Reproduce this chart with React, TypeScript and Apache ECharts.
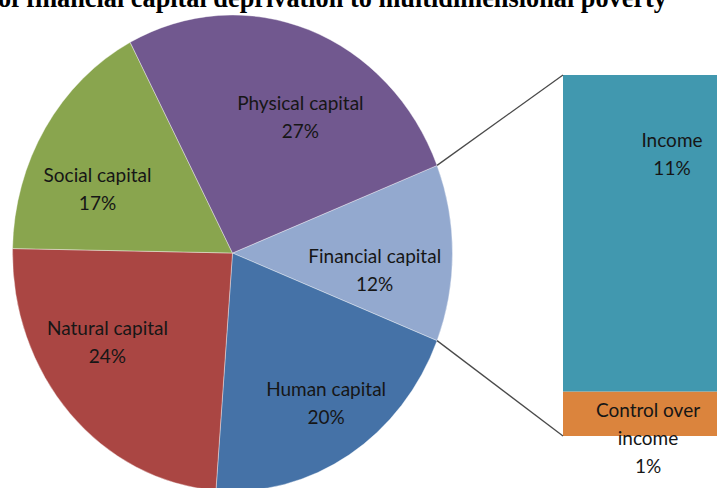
import React, { useEffect, useRef } from 'react';
import * as echarts from 'echarts';

// ---- data ----
const titleText = 'of financial capital deprivation to multidimensional poverty';
const pieCategories = ['Financial capital', 'Human capital', 'Natural capital', 'Social capital', 'Physical capital'];
const pieValues = [12, 20.2, 24.1, 17.0, 26.7];
const barAxisCategory = ['Financial capital'];
const barCategories = ['Control over\nincome', 'Income'];
const barValues = [1.48, 10.52];

// ---- styles / layout ----
const pieColors = ['#93A9CF', '#4572A7', '#AA4643', '#89A54E', '#71588F'];
const barColors = ['#DB843D', '#4198AF'];
const PIE = { cx: 232.5, cy: 253, rx: 220, ry: 238 };
const BAR = { left: 563, top: 75, height: 361 };
// label placement: angle offset from slice middle (deg) and radius fraction
const labelAngleShift = [6, -2, 9, -8, 8];
const labelRadius = [0.65, 0.76, 0.68, 0.67, 0.65];
const barLabelOffset = [[8, 24], [32, -80]];
const TEXT_COLOR = '#161616';
const FONT = 'Lato';

export default function App() {
  const ref = useRef<HTMLDivElement>(null);
  useEffect(() => {
    document.body.style.margin = '0';
    const chart = echarts.init(ref.current!, null, { renderer: 'svg' });
    const total = pieValues.reduce((a, b) => a + b, 0);
    const startDeg = 90 - (pieValues[0] / total) * 180;
    const cum: number[] = [];
    let acc = 0;
    pieValues.forEach((v) => {
      cum.push(acc);
      acc += v;
    });
    const toRad = (d: number) => ((d - 90) * Math.PI) / 180;
    const edge = (d: number, f = 1) => [
      PIE.cx + PIE.rx * f * Math.sin((d * Math.PI) / 180),
      PIE.cy - PIE.ry * f * Math.cos((d * Math.PI) / 180),
    ];
    const finStart = startDeg;
    const finEnd = startDeg + (pieValues[0] / total) * 360;
    const p1 = edge(finStart);
    const p2 = edge(finEnd);
    const barSum = barValues.reduce((a, b) => a + b, 0);

    const option: any = {
      animation: false,
      backgroundColor: '#ffffff',
      textStyle: { fontFamily: FONT },
      grid: { left: BAR.left, top: BAR.top, height: BAR.height, right: 0 },
      xAxis: { type: 'category', data: barAxisCategory, show: false },
      yAxis: { type: 'value', min: 0, max: barSum, show: false },
      graphic: [
        {
          type: 'text',
          x: 667,
          y: -1.3,
          style: {
            text: titleText,
            fill: '#000',
            fontFamily: 'Liberation Serif',
            fontWeight: 'bold',
            fontSize: 26.3,
            align: 'right',
            verticalAlign: 'middle',
          },
        },
        {
          type: 'line',
          shape: { x1: p1[0], y1: p1[1], x2: BAR.left, y2: BAR.top },
          style: { stroke: '#4a4a4a', lineWidth: 1.3 },
          z: 10,
        },
        {
          type: 'line',
          shape: { x1: p2[0], y1: p2[1], x2: BAR.left, y2: BAR.top + BAR.height },
          style: { stroke: '#4a4a4a', lineWidth: 1.3 },
          z: 10,
        },
      ],
      series: [
        {
          type: 'custom',
          coordinateSystem: 'none',
          data: pieValues.map((v, i) => ({ value: v, name: pieCategories[i] })),
          renderItem: (params: any, api: any) => {
            const i = params.dataIndex;
            const v = api.value(0);
            const a0 = startDeg + (cum[i] / total) * 360;
            const a1 = a0 + (v / total) * 360;
            const mid = (a0 + a1) / 2 + labelAngleShift[i];
            const lp = edge(mid, labelRadius[i]);
            return {
              type: 'group',
              children: [
                {
                  type: 'sector',
                  shape: {
                    cx: PIE.cx,
                    cy: PIE.cy,
                    r: PIE.rx,
                    r0: 0,
                    startAngle: toRad(a0),
                    endAngle: toRad(a1),
                    clockwise: true,
                  },
                  originX: PIE.cx,
                  originY: PIE.cy,
                  scaleY: PIE.ry / PIE.rx,
                  style: { fill: pieColors[i], stroke: 'rgba(255,255,255,0.45)', lineWidth: 0.8 },
                },
                {
                  type: 'text',
                  x: lp[0],
                  y: lp[1],
                  style: {
                    text: `${pieCategories[i]}\n${Math.round(v)}%`,
                    fill: TEXT_COLOR,
                    fontFamily: FONT,
                    fontSize: 19,
                    lineHeight: 28,
                    align: 'center',
                    verticalAlign: 'middle',
                  },
                },
              ],
            };
          },
        },
        ...barValues.map((v, i) => ({
          type: 'bar',
          name: barCategories[i],
          stack: 'fin',
          barWidth: '100%',
          data: [v],
          itemStyle: { color: barColors[i], borderWidth: 0 },
          label: {
            show: true,
            position: 'inside',
            offset: barLabelOffset[i],
            formatter: (p: any) => `${barCategories[i]}\n${Math.round(p.value)}%`,
            color: TEXT_COLOR,
            fontFamily: FONT,
            fontSize: 19,
            lineHeight: 28,
            textBorderWidth: 0,
            align: 'center',
            verticalAlign: 'middle',
          },
        })),
      ],
    };
    chart.setOption(option);
    return () => chart.dispose();
  }, []);
  return <div ref={ref} style={{ position: 'absolute', left: 0, top: 0, width: 717, height: 488 }} />;
}
